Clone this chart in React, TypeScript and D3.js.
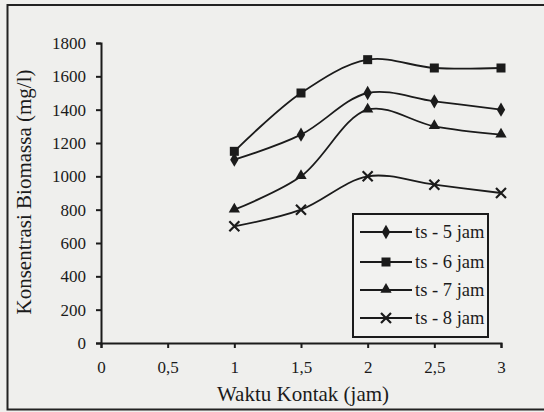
import React, { useEffect, useRef } from 'react';
import * as d3 from 'd3';

const times = [1, 1.5, 2, 2.5, 3];
const ts5 = [1100, 1250, 1500, 1450, 1400];
const ts6 = [1150, 1500, 1700, 1650, 1650];
const ts7 = [800, 1000, 1400, 1300, 1250];
const ts8 = [700, 800, 1000, 950, 900];
const seriesNames = ['ts - 5 jam', 'ts - 6 jam', 'ts - 7 jam', 'ts - 8 jam'];
const xTicks = [0, 0.5, 1, 1.5, 2, 2.5, 3];
const xTickLabels = ['0', '0,5', '1', '1,5', '2', '2,5', '3'];
const yTicks = [0, 200, 400, 600, 800, 1000, 1200, 1400, 1600, 1800];

const W = 544;
const H = 412;
const ink = '#1b1b1b';
const font = 'Liberation Serif, DejaVu Serif, serif';

function drawMarker(g: any, kind: number, x: number, y: number) {
  if (kind === 0) {
    g.append('path').attr('d', d3.symbol(d3.symbolDiamond, 60)()).attr('transform', `translate(${x},${y})`).attr('fill', ink);
  } else if (kind === 1) {
    g.append('rect').attr('x', x - 4.5).attr('y', y - 4.5).attr('width', 9).attr('height', 9).attr('fill', ink);
  } else if (kind === 2) {
    g.append('path').attr('d', d3.symbol(d3.symbolTriangle, 55)()).attr('transform', `translate(${x},${y - 0.5})`).attr('fill', ink);
  } else {
    g.append('path').attr('d', `M${x - 5},${y - 5}L${x + 5},${y + 5}M${x - 5},${y + 5}L${x + 5},${y - 5}`)
      .attr('stroke', ink).attr('stroke-width', 2.2).attr('fill', 'none');
  }
}

const App = () => {
  const ref = useRef<SVGSVGElement>(null);

  useEffect(() => {
    const svg = d3.select(ref.current);
    svg.selectAll('*').remove();
    svg.attr('font-family', font);

    svg.append('rect').attr('width', W).attr('height', H).attr('fill', '#efefed');
    // scan frame
    svg.append('path').attr('d', `M${W},5H7.5V409.5H${W}`).attr('fill', 'none').attr('stroke', '#222').attr('stroke-width', 2);

    const x = d3.scaleLinear().domain([0, 3]).range([101, 501]);
    const y = d3.scaleLinear().domain([0, 1800]).range([343, 43]);

    const xAxis = svg.append('g').attr('transform', `translate(0,${y(0)})`)
      .call(d3.axisBottom(x).tickValues(xTicks).tickSize(5).tickFormat((d, i) => xTickLabels[i]));
    const yAxis = svg.append('g').attr('transform', `translate(${x(0)},0)`)
      .call(d3.axisLeft(y).tickValues(yTicks).tickSize(5).tickFormat(d3.format('d')));

    [xAxis, yAxis].forEach(a => {
      a.attr('font-family', font).attr('font-size', 17);
      a.select('.domain').attr('stroke', ink).attr('stroke-width', 2);
      a.selectAll('.tick line').attr('stroke', ink).attr('stroke-width', 2);
      a.selectAll('.tick text').attr('fill', ink);
    });
    xAxis.selectAll('.tick text').attr('dy', 0).attr('y', 30);
    yAxis.selectAll('.tick text').attr('x', -15);

    svg.append('text').attr('x', 303).attr('y', 401).attr('text-anchor', 'middle')
      .attr('fill', ink).attr('font-size', 21).text('Waktu Kontak (jam)');
    svg.append('text').attr('transform', `translate(31,192) rotate(-90)`).attr('text-anchor', 'middle')
      .attr('fill', ink).attr('font-size', 21).text('Konsentrasi Biomassa (mg/l)');

    const line = d3.line<number>()
      .x((d, i) => x(times[i]))
      .y(d => y(d))
      .curve(d3.curveCatmullRom.alpha(0.5));

    const series = [ts5, ts6, ts7, ts8];
    series.forEach(s => {
      svg.append('path').attr('d', line(s)).attr('fill', 'none').attr('stroke', ink).attr('stroke-width', 1.8);
    });
    series.forEach((s, k) => {
      const g = svg.append('g');
      s.forEach((v, i) => drawMarker(g, k, x(times[i]), y(v)));
    });

    // legend
    const lg = svg.append('g');
    lg.append('rect').attr('x', 353).attr('y', 214).attr('width', 135).attr('height', 123)
      .attr('fill', '#f2f2f0').attr('stroke', ink).attr('stroke-width', 2);
    const rows = [232, 262, 290, 318];
    seriesNames.forEach((name, k) => {
      const ry = rows[k];
      lg.append('line').attr('x1', 360).attr('x2', 412).attr('y1', ry).attr('y2', ry).attr('stroke', ink).attr('stroke-width', 1.8);
      drawMarker(lg, k, 386, ry);
      lg.append('text').attr('x', 415).attr('y', ry + 6).attr('fill', ink)
        .attr('font-size', 18.5).text(name);
    });
  }, []);

  return (
    <svg ref={ref} width={W} height={H} style={{ position: 'absolute', left: 0, top: 0 }} />
  );
};

export default App;
